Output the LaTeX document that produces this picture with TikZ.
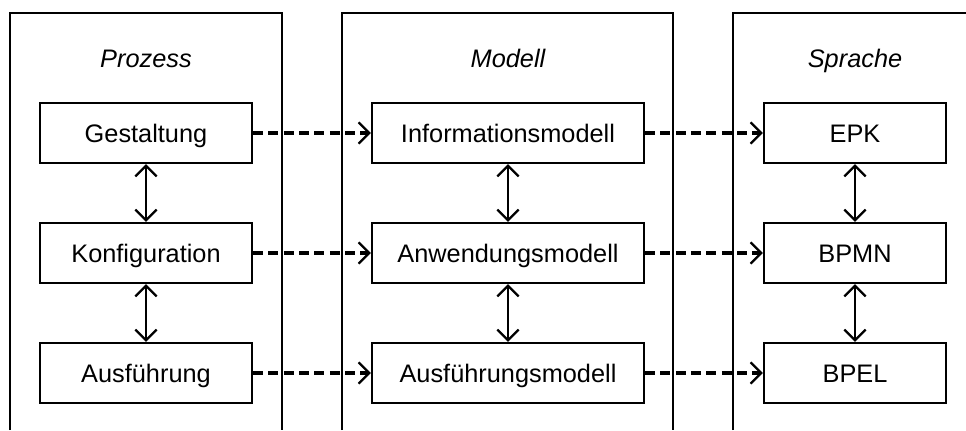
\documentclass[tikz,border=0pt]{standalone}
\usepackage{fontspec}
\setmainfont{Liberation Sans}
\usetikzlibrary{arrows.meta}

\begin{document}
\begin{tikzpicture}[x=0.75pt,y=-0.75pt,
    frame/.style={line width=1.7pt},
    head/.style={font=\fontsize{19}{22}\selectfont\itshape,
        text height=13.6pt,text depth=0pt},
    box/.style={draw,line width=1.7pt,minimum height=45pt,inner sep=0pt,
        text height=13.6pt,text depth=0pt,font=\fontsize{19}{22}\selectfont},
    flow/.style={line width=2.4pt,dash pattern=on 7.5pt off 4pt,
        -{Straight Barb[length=8pt,width=16pt,line width=1.7pt]}},
    link/.style={line width=1.7pt,
        {Straight Barb[length=8pt,width=16pt]}-{Straight Barb[length=8pt,width=16pt]}}]
\useasboundingbox (0,0) rectangle (966,430);

% Columns
\draw[frame] (10,430) -- (10,13) -- (282,13) -- (282,430);
\draw[frame] (342,430) -- (342,13) -- (673,13) -- (673,430);
\draw[frame] (733,430) -- (733,13) -- (980,13);

% Headings
\node[head] (hproz) at (146,58) {Prozess};
\node[head] (hmod) at (508,58) {Modell};
\node[head] (hspr) at (855,58) {Sprache};

% Prozess
\node[box,minimum width=159pt] (gest) at (146,133) {Gestaltung};
\node[box,minimum width=159pt] (konf) at (146,253) {Konfiguration};
\node[box,minimum width=159pt] (ausf) at (146,373) {Ausführung};

% Modell
\node[box,minimum width=204pt] (info) at (508,133) {Informationsmodell};
\node[box,minimum width=204pt] (anw) at (508,253) {Anwendungsmodell};
\node[box,minimum width=204pt] (ausm) at (508,373) {Ausführungsmodell};

% Sprache
\node[box,minimum width=136.5pt] (epk) at (855,133) {EPK};
\node[box,minimum width=136.5pt] (bpmn) at (855,253) {BPMN};
\node[box,minimum width=136.5pt] (bpel) at (855,373) {BPEL};

% Mappings
\draw[flow] (gest) -- (info);
\draw[flow] (konf) -- (anw);
\draw[flow] (ausf) -- (ausm);
\draw[flow] (info) -- (epk);
\draw[flow] (anw) -- (bpmn);
\draw[flow] (ausm) -- (bpel);

% Links
\draw[link] (gest) -- (konf);
\draw[link] (konf) -- (ausf);
\draw[link] (info) -- (anw);
\draw[link] (anw) -- (ausm);
\draw[link] (epk) -- (bpmn);
\draw[link] (bpmn) -- (bpel);
\end{tikzpicture}
\end{document}
